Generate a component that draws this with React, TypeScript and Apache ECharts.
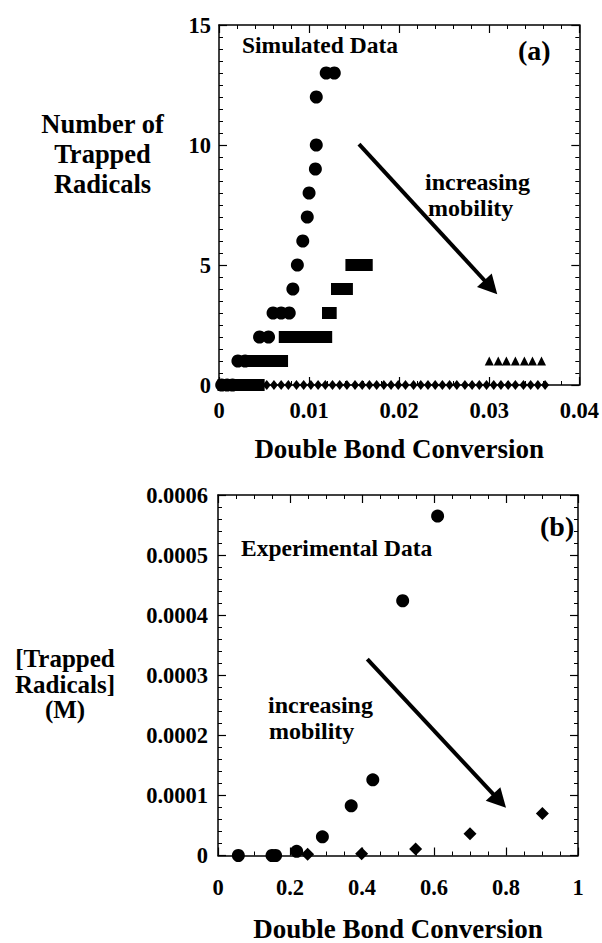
import React, { useEffect, useRef } from "react";
import * as echarts from "echarts";

const FONT = "'Liberation Serif', 'Times New Roman', serif";

// (a) Simulated data: number of trapped radicals vs double bond conversion
const simCircleX = [0.0003, 0.0009, 0.0015, 0.0021, 0.0029, 0.0045, 0.0055, 0.0060, 0.0069, 0.0078, 0.0082, 0.0087, 0.0093, 0.0098, 0.0100, 0.0107, 0.0108, 0.0108, 0.0119, 0.0128];
const simCircleY = [0, 0, 0, 1, 1, 2, 2, 3, 3, 3, 4, 5, 6, 7, 8, 9, 10, 12, 13, 13];

const simSquareX = [0.0005, 0.0012, 0.0020, 0.0028, 0.0036, 0.0044, 0.0037, 0.0045, 0.0053, 0.0062, 0.0070, 0.0073, 0.0081, 0.0090, 0.0098, 0.0106, 0.0114, 0.0119, 0.0121, 0.0124, 0.0131, 0.0136, 0.0142, 0.0147, 0.0155, 0.0164];
const simSquareY = [0, 0, 0, 0, 0, 0, 1, 1, 1, 1, 1, 2, 2, 2, 2, 2, 2, 2, 3, 3, 4, 4, 4, 5, 5, 5];

const simTriangleX = [0.0300, 0.0310, 0.0319, 0.0329, 0.0339, 0.0348, 0.0358];
const simTriangleY = [1, 1, 1, 1, 1, 1, 1];

const simDiamondX = [0.0004, 0.0012, 0.0020, 0.0029, 0.0037, 0.0045, 0.0053, 0.0061, 0.0069, 0.0077, 0.0086, 0.0094, 0.0102, 0.0110, 0.0118, 0.0126, 0.0134, 0.0142, 0.0151, 0.0159, 0.0167, 0.0175, 0.0183, 0.0191, 0.0199, 0.0207, 0.0216, 0.0224, 0.0232, 0.0240, 0.0248, 0.0256, 0.0264, 0.0273, 0.0281, 0.0289, 0.0297, 0.0305, 0.0313, 0.0321, 0.0329, 0.0338, 0.0346, 0.0354, 0.0362];
const simDiamondY = simDiamondX.map(() => 0);

// (b) Experimental data: trapped radical concentration (M) vs conversion
const expCircleX = [0.0565, 0.150, 0.160, 0.2185, 0.290, 0.370, 0.430, 0.513, 0.610];
const expCircleY = [0, 0, 0, 0.000007, 0.000031, 0.0000826, 0.000126, 0.000424, 0.000565];

const expDiamondX = [0.249, 0.399, 0.549, 0.700, 0.901];
const expDiamondY = [0.000002, 0.000003, 0.000011, 0.000036, 0.00007];

// Tick labels
const xTicksA = ["0", "0.01", "0.02", "0.03", "0.04"];
const yTicksA = ["0", "5", "10", "15"];
const xTicksB = ["0", "0.2", "0.4", "0.6", "0.8", "1"];
const yTicksB = ["0", "0.0001", "0.0002", "0.0003", "0.0004", "0.0005", "0.0006"];

// Arrow annotations in data coordinates: [start, tip]
const arrowA = [[0.01554, 10.04], [0.03089, 3.78]];
const arrowB = [[0.4147, 0.000327], [0.800, 0.0000793]];

const pairs = (xs: number[], ys: number[]) => xs.map((x, i) => [x, ys[i]]);

const lineStyle = { color: "#000", width: 1.5 };
const labelStyle = { color: "#000", fontFamily: FONT, fontWeight: "bold" as const, fontSize: 22.5 };

function xAxis(grid: number, pos: "bottom" | "top", max: number, interval: number, minorSplit: number, ticks: string[] | null, name?: string, nameGap?: number, labelMargin?: number) {
  return {
    gridIndex: grid,
    type: "value",
    position: pos,
    min: 0,
    max,
    interval,
    axisLine: { show: true, onZero: false, lineStyle },
    axisTick: { show: true, inside: true, length: 8, lineStyle: { color: "#000", width: 1.2 } },
    minorTick: { show: true, splitNumber: minorSplit, length: 4, lineStyle: { color: "#000", width: 1 } },
    splitLine: { show: false },
    axisLabel: ticks
      ? {
          show: true,
          ...labelStyle,
          verticalAlign: "middle",
          margin: labelMargin,
          formatter: (v: number) => ticks[Math.round(v / interval)] ?? "",
        }
      : { show: false },
    name: name ?? "",
    nameLocation: "middle",
    nameGap: nameGap ?? 0,
    nameTextStyle: { color: "#000", fontFamily: FONT, fontWeight: "bold", fontSize: 27, verticalAlign: "middle" },
  };
}

function yAxis(grid: number, pos: "left" | "right", max: number, interval: number, minorSplit: number, ticks: string[] | null, labelMargin?: number) {
  return {
    gridIndex: grid,
    type: "value",
    position: pos,
    min: 0,
    max,
    interval,
    axisLine: { show: true, onZero: false, lineStyle },
    axisTick: { show: true, inside: true, length: 8, lineStyle: { color: "#000", width: 1.2 } },
    minorTick: { show: true, splitNumber: minorSplit, length: 4, lineStyle: { color: "#000", width: 1 } },
    splitLine: { show: false },
    axisLabel: ticks
      ? {
          show: true,
          ...labelStyle,
          margin: labelMargin,
          formatter: (v: number) => ticks[Math.round(v / interval)] ?? "",
        }
      : { show: false },
  };
}

function scatter(xi: number, yi: number, data: number[][], symbol: string, size: number | number[]) {
  return {
    type: "scatter",
    xAxisIndex: xi,
    yAxisIndex: yi,
    data,
    symbol,
    symbolSize: size,
    clip: false,
    itemStyle: { color: "#000", opacity: 1 },
    emphasis: { disabled: true },
  };
}

const textEl = (text: string, x: number, y: number, size: number, align = "left", lineHeight?: number) => ({
  type: "text",
  x,
  y,
  style: {
    text,
    fill: "#000",
    font: `bold ${size}px ${FONT}`,
    textAlign: align,
    textVerticalAlign: "middle",
    lineHeight: lineHeight ?? size,
  },
  z: 10,
});

export default function App() {
  const ref = useRef<HTMLDivElement>(null);

  useEffect(() => {
    const chart = echarts.init(ref.current!, null, { renderer: "svg", width: 602, height: 943 });
    chart.setOption({
      animation: false,
      backgroundColor: "#fff",
      grid: [
        { left: 219, top: 25, width: 363, height: 360, show: false },
        { left: 218, top: 495, width: 360, height: 361, show: false },
      ],
      xAxis: [
        xAxis(0, "bottom", 0.04, 0.01, 5, xTicksA, "Double Bond Conversion", 64, 25),
        xAxis(0, "top", 0.04, 0.01, 5, null),
        xAxis(1, "bottom", 1, 0.2, 4, xTicksB, "Double Bond Conversion", 73, 32),
        xAxis(1, "top", 1, 0.2, 4, null),
      ],
      yAxis: [
        yAxis(0, "left", 15, 5, 10, yTicksA, 8),
        yAxis(0, "right", 15, 5, 10, null),
        yAxis(1, "left", 0.0006, 0.0001, 5, yTicksB, 10),
        yAxis(1, "right", 0.0006, 0.0001, 5, null),
      ],
      series: [
        scatter(0, 0, pairs(simDiamondX, simDiamondY), "diamond", [8, 10]),
        scatter(0, 0, pairs(simTriangleX, simTriangleY), "triangle", [9, 9]),
        scatter(0, 0, pairs(simSquareX, simSquareY), "rect", 12),
        scatter(0, 0, pairs(simCircleX, simCircleY), "circle", 13),
        scatter(2, 2, pairs(expCircleX, expCircleY), "circle", 13),
        scatter(2, 2, pairs(expDiamondX, expDiamondY), "diamond", 13),
      ],
    });

    const arrowEls = (grid: number, a: number[][]) => {
      const s = chart.convertToPixel({ xAxisIndex: grid * 2, yAxisIndex: grid * 2 }, a[0]) as number[];
      const t = chart.convertToPixel({ xAxisIndex: grid * 2, yAxisIndex: grid * 2 }, a[1]) as number[];
      const dx = t[0] - s[0];
      const dy = t[1] - s[1];
      const len = Math.hypot(dx, dy);
      const ux = dx / len;
      const uy = dy / len;
      const headL = 19;
      const headW = 10;
      const bx = t[0] - ux * headL;
      const by = t[1] - uy * headL;
      return [
        {
          type: "line",
          shape: { x1: s[0], y1: s[1], x2: bx + ux * 3, y2: by + uy * 3 },
          style: { stroke: "#000", lineWidth: 4 },
          z: 10,
        },
        {
          type: "polygon",
          shape: {
            points: [
              [t[0], t[1]],
              [bx - uy * headW, by + ux * headW],
              [bx + uy * headW, by - ux * headW],
            ],
          },
          style: { fill: "#000" },
          z: 10,
        },
      ];
    };

    chart.setOption({
      graphic: [
        ...arrowEls(0, arrowA),
        ...arrowEls(1, arrowB),
        textEl("Simulated Data", 242, 45, 23.5),
        textEl("(a)", 518, 50, 28),
        textEl("increasing", 425, 182, 24),
        textEl("mobility", 428, 208, 24),
        textEl("Number of\nTrapped\nRadicals", 102.5, 154, 26.5, "center", 30),
        textEl("Experimental Data", 241, 548, 23.5),
        textEl("(b)", 540, 526, 28),
        textEl("increasing", 268, 705, 24),
        textEl("mobility", 269, 731, 24),
        textEl("[Trapped\nRadicals]\n(M)", 65, 684, 25, "center", 25.5),
      ],
    });

    return () => chart.dispose();
  }, []);

  return (
    <div
      ref={ref}
      style={{ position: "fixed", left: 0, top: 0, width: 602, height: 943, background: "#fff" }}
    />
  );
}
